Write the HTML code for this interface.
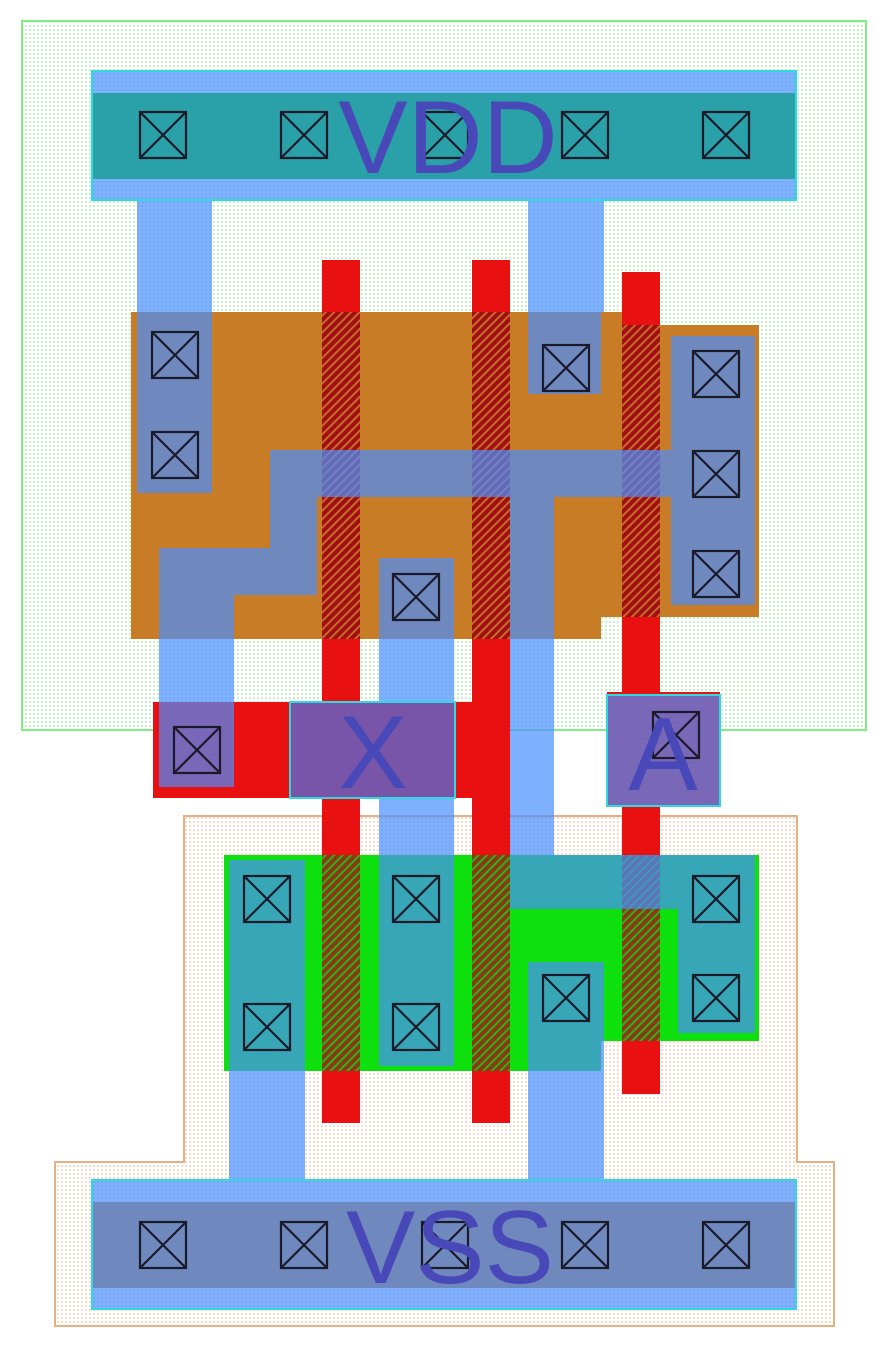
<!DOCTYPE html>
<html><head><meta charset="utf-8"><style>
html,body{margin:0;padding:0;background:#fff;width:888px;height:1350px;overflow:hidden}
svg{display:block}
text{font-family:"Liberation Sans","DejaVu Sans",sans-serif;fill:#4848b8}
</style></head><body>
<svg width="888" height="1350" viewBox="0 0 888 1350" xmlns="http://www.w3.org/2000/svg">
<defs>
<pattern id="gdot" width="4" height="4" patternUnits="userSpaceOnUse"><rect width="4" height="4" fill="#fff"/><circle cx="2" cy="2" r="0.9" fill="#9ee89e"/></pattern>
<pattern id="odot" width="4" height="4" patternUnits="userSpaceOnUse"><rect width="4" height="4" fill="#fff"/><circle cx="2" cy="2" r="0.9" fill="#f0c0a0"/></pattern>
<pattern id="hatchO" width="6" height="6" patternUnits="userSpaceOnUse" patternTransform="rotate(45)"><rect width="6" height="6" fill="#a01010"/><rect width="2" height="6" fill="#c86a30"/></pattern>
<pattern id="hatchG" width="6" height="6" patternUnits="userSpaceOnUse" patternTransform="rotate(45)"><rect width="6" height="6" fill="#8a3a10"/><rect width="2" height="6" fill="#30b020"/></pattern>
<g id="ct"><rect x="-23" y="-23" width="46" height="46" fill="none" stroke="#1a1a2a" stroke-width="2.2"/><path d="M-23-23L23 23M23-23L-23 23" stroke="#1a1a2a" stroke-width="2.2"/></g>
</defs>
<rect x="22" y="21" width="844" height="709" fill="url(#gdot)" stroke="#80ee80" stroke-width="2"/>
<polygon points="184,816 797,816 797,1162 834,1162 834,1326 55,1326 55,1162 184,1162" fill="url(#odot)" stroke="#e8b080" stroke-width="2"/>
<polygon points="131,312 622,312 622,325 759,325 759,617 601,617 601,639 131,639" fill="#c87c25"/>
<polygon points="224,855 759,855 759,1041 601,1041 601,1071 224,1071" fill="#0ee00e"/>
<rect x="92" y="1202" width="704" height="86" fill="#c87c25"/>
<g fill="#e81010">
<rect x="322" y="260" width="38" height="863"/>
<rect x="472" y="260" width="38" height="863"/>
<rect x="622" y="272" width="38" height="822"/>
<rect x="153" y="702" width="319" height="96"/>
<rect x="455" y="702" width="30" height="96"/>
<rect x="607" y="692" width="113" height="114"/>
</g>
<rect x="322" y="312" width="38" height="327" fill="url(#hatchO)"/>
<rect x="472" y="312" width="38" height="327" fill="url(#hatchO)"/>
<rect x="622" y="325" width="38" height="292" fill="url(#hatchO)"/>
<rect x="322" y="855" width="38" height="216" fill="url(#hatchG)"/>
<rect x="472" y="855" width="38" height="216" fill="url(#hatchG)"/>
<rect x="622" y="855" width="38" height="186" fill="url(#hatchG)"/>
<g fill="rgb(73,142,255)" fill-opacity="0.7">
<path d="M92 71H796V200H92Z"/>
<path d="M92 1180H796V1309H92Z"/>
<path d="M137 200H212V493H137Z"/>
<path d="M528 200H604V312H601V394H528Z"/>
<path d="M671 336H755V605H671Z"/>
<path d="M270 450H671V497H554V855H755V1033H678V909H510V497H317V595H234V787H159V548H270Z"/>
<path d="M379 558H454V702H379Z M379 798H454V1066H379Z"/>
<path d="M229 860H305V1180H229Z"/>
<path d="M528 962H604V1180H528Z"/>
<path d="M607 695H720V806H607Z"/>
</g>
<rect x="92" y="93" width="704" height="86" fill="#2aa0a8"/>
<rect x="290" y="702" width="165" height="96" fill="#7855a8"/>
<rect x="92" y="71" width="704" height="129" fill="none" stroke="#30d8e0" stroke-width="2"/>
<rect x="92" y="1180" width="704" height="129" fill="none" stroke="#30d8e0" stroke-width="2"/>
<rect x="290" y="702" width="165" height="96" fill="none" stroke="#30d8e0" stroke-width="2"/>
<rect x="607" y="695" width="113" height="111" fill="none" stroke="#30d8e0" stroke-width="2"/>
<use href="#ct" x="163" y="135"/><use href="#ct" x="304" y="135"/><use href="#ct" x="445" y="135"/><use href="#ct" x="585" y="135"/><use href="#ct" x="726" y="135"/>
<use href="#ct" x="163" y="1245"/><use href="#ct" x="304" y="1245"/><use href="#ct" x="445" y="1245"/><use href="#ct" x="585" y="1245"/><use href="#ct" x="726" y="1245"/>
<use href="#ct" x="175" y="355"/><use href="#ct" x="175" y="455"/><use href="#ct" x="566" y="368"/>
<use href="#ct" x="716" y="374"/><use href="#ct" x="716" y="474"/><use href="#ct" x="716" y="574"/>
<use href="#ct" x="416" y="597"/><use href="#ct" x="197" y="750"/><use href="#ct" x="676" y="735"/>
<use href="#ct" x="267" y="899"/><use href="#ct" x="267" y="1027"/><use href="#ct" x="416" y="899"/><use href="#ct" x="416" y="1027"/>
<use href="#ct" x="566" y="998"/><use href="#ct" x="716" y="899"/><use href="#ct" x="716" y="998"/>
<text x="448" y="173" font-size="104" text-anchor="middle">VDD</text>
<text x="450" y="1283" font-size="104" text-anchor="middle">VSS</text>
<text x="373" y="788" font-size="104" text-anchor="middle">X</text>
<text x="663" y="790" font-size="104" text-anchor="middle">A</text>
</svg>
</body></html>
